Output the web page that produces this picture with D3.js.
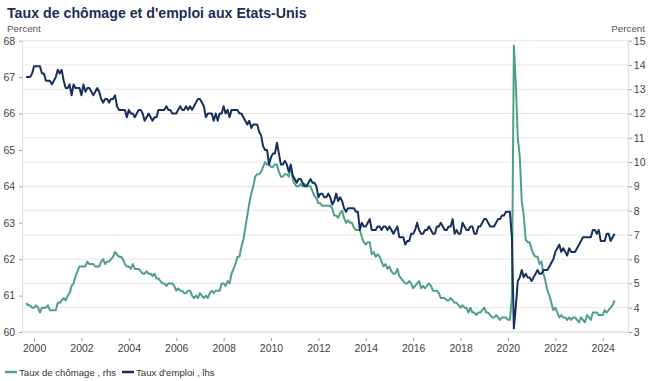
<!DOCTYPE html>
<html><head><meta charset="utf-8">
<script src="https://cdn.jsdelivr.net/npm/d3@7"></script>
<style>body{margin:0;background:#fff}svg{display:block}text{font-family:"Liberation Sans",Arial,sans-serif}</style>
</head><body><svg id="c" width="652" height="381"></svg>
<script>
// Monthly series, starting September 1999, ending July 2024
const startYear = 1999, startMonth = 8; // 0-based month (September)
const unemployment = [ // Taux de chômage (rhs)
4.2,4.1,4.1,4.0,
4.0,4.1,4.0,3.8,4.0,4.0,4.0,4.1,3.9,3.9,3.9,3.9,
4.2,4.2,4.3,4.4,4.3,4.5,4.6,4.9,5.0,5.3,5.5,5.7,
5.7,5.7,5.7,5.9,5.8,5.8,5.8,5.7,5.7,5.7,5.9,6.0,
5.8,5.9,5.9,6.0,6.1,6.3,6.2,6.1,6.1,6.0,5.8,5.7,
5.7,5.6,5.8,5.6,5.6,5.6,5.5,5.4,5.4,5.5,5.4,5.4,
5.3,5.4,5.2,5.2,5.1,5.0,5.0,4.9,5.0,5.0,5.0,4.9,
4.7,4.8,4.7,4.7,4.6,4.6,4.7,4.7,4.5,4.4,4.5,4.4,
4.6,4.5,4.4,4.5,4.4,4.6,4.7,4.6,4.7,4.7,4.7,5.0,
5.0,4.9,5.1,5.0,5.4,5.6,5.8,6.1,6.1,6.5,6.8,7.3,
7.8,8.3,8.7,9.0,9.4,9.5,9.5,9.6,9.8,10.0,9.9,9.9,
9.8,9.8,9.9,9.9,9.6,9.4,9.4,9.5,9.5,9.4,9.8,9.3,
9.1,9.0,9.0,9.1,9.0,9.1,9.0,9.0,9.0,8.8,8.6,8.5,
8.3,8.3,8.2,8.2,8.2,8.2,8.2,8.1,7.8,7.8,7.7,7.9,
8.0,7.7,7.5,7.6,7.5,7.5,7.3,7.2,7.2,7.2,6.9,6.7,
6.6,6.7,6.7,6.2,6.3,6.1,6.2,6.1,5.9,5.7,5.8,5.6,
5.7,5.5,5.4,5.4,5.6,5.3,5.2,5.1,5.0,5.0,5.1,5.0,
4.8,4.9,5.0,5.1,4.8,4.9,4.8,4.9,5.0,4.9,4.7,4.7,
4.7,4.6,4.4,4.4,4.4,4.3,4.3,4.4,4.3,4.2,4.2,4.1,
4.0,4.1,4.0,4.0,3.8,4.0,3.8,3.8,3.7,3.8,3.8,3.9,
4.0,3.8,3.8,3.7,3.6,3.6,3.7,3.6,3.5,3.6,3.6,3.6,
3.5,3.5,4.4,14.8,13.2,11.0,10.2,8.4,7.8,6.8,6.7,6.7,
6.4,6.2,6.1,6.1,5.8,5.9,5.4,5.1,4.7,4.5,4.2,3.9,
4.0,3.8,3.6,3.7,3.6,3.6,3.5,3.6,3.5,3.6,3.6,3.5,
3.4,3.6,3.5,3.4,3.7,3.6,3.5,3.8,3.8,3.8,3.7,3.7,
3.7,3.9,3.8,3.9,4.0,4.1,4.3
];
const participation = [ // Taux d'emploi (lhs)
67.0,67.0,67.0,67.1,
67.3,67.3,67.3,67.3,67.1,67.1,66.9,66.9,66.9,66.8,66.9,67.0,
67.2,67.1,67.2,66.9,66.7,66.7,66.8,66.5,66.8,66.7,66.7,66.7,
66.5,66.8,66.6,66.7,66.7,66.6,66.5,66.6,66.7,66.6,66.4,66.3,
66.4,66.4,66.3,66.4,66.4,66.5,66.2,66.1,66.1,66.1,66.1,65.9,
66.1,66.0,66.0,65.9,66.0,66.1,66.1,66.0,65.8,65.9,66.0,65.9,
65.8,65.9,65.9,66.1,66.1,66.1,66.1,66.2,66.1,66.1,66.0,66.0,
66.0,66.1,66.2,66.1,66.1,66.2,66.1,66.2,66.1,66.2,66.3,66.4,
66.4,66.3,66.2,65.9,66.0,66.0,66.0,65.8,66.0,65.8,66.0,66.0,
66.2,66.0,66.1,65.9,66.1,66.1,66.1,66.1,66.0,66.0,65.9,65.8,
65.7,65.8,65.6,65.7,65.7,65.7,65.5,65.4,65.1,65.0,65.0,64.6,
64.8,64.9,64.9,65.2,64.9,64.6,64.6,64.7,64.6,64.4,64.6,64.3,
64.2,64.1,64.2,64.2,64.1,64.0,64.0,64.1,64.2,64.1,64.1,64.0,
63.7,63.8,63.8,63.7,63.7,63.8,63.7,63.5,63.6,63.8,63.6,63.7,
63.6,63.4,63.3,63.4,63.4,63.4,63.4,63.3,63.3,62.8,63.0,62.9,
62.9,63.0,63.1,62.8,62.8,62.8,62.9,62.9,62.8,62.9,62.9,62.8,
62.9,62.8,62.7,62.8,62.9,62.6,62.6,62.6,62.4,62.5,62.5,62.7,
62.7,62.8,63.0,62.8,62.7,62.7,62.8,62.8,62.9,62.8,62.7,62.7,
62.9,62.9,63.0,62.9,62.8,62.8,62.9,62.9,63.1,62.7,62.8,62.7,
62.7,63.0,62.9,62.8,62.8,62.9,62.9,62.7,62.7,62.9,62.9,63.0,
63.1,63.1,63.0,62.9,62.9,62.9,63.0,63.1,63.1,63.2,63.2,63.3,
63.3,63.3,62.6,60.1,60.7,61.4,61.5,61.7,61.5,61.6,61.5,61.5,
61.4,61.5,61.6,61.7,61.6,61.6,61.7,61.7,61.7,61.8,61.9,62.0,
62.2,62.3,62.4,62.2,62.3,62.2,62.1,62.3,62.2,62.2,62.2,62.3,
62.4,62.5,62.6,62.6,62.6,62.6,62.6,62.8,62.8,62.7,62.8,62.5,
62.5,62.5,62.7,62.7,62.5,62.6,62.7
];
const yearTicks = [2000,2002,2004,2006,2008,2010,2012,2014,2016,2018,2020,2022,2024];
const leftTicks = [60,61,62,63,64,65,66,67,68];
const rightTicks = [3,4,5,6,7,8,9,10,11,12,13,14,15];
const seriesNames = ["Taux de chômage , rhs", "Taux d'emploi , lhs"];
const title = "Taux de chômage et d'emploi aux Etats-Unis";

const colGreen = "#4fa088", colNavy = "#17305c";
const svg = d3.select("#c");
const L = 22.7, R = 628.3, T = 40.7, B = 332;

const dateOf = i => startYear + (startMonth + i) / 12;
const x = d3.scaleLinear().domain([1999.52, 2025.08]).range([L, R]);
const yL = d3.scaleLinear().domain([60, 68]).range([B, T]);
const yR = d3.scaleLinear().domain([3, 15]).range([B, T]);

// title & unit labels
svg.append("text").attr("x", 7).attr("y", 18).attr("font-size", 14.2).attr("font-weight", "bold")
  .attr("fill", "#1c2f57").text(title);
svg.append("text").attr("x", 7).attr("y", 31.5).attr("font-size", 9.8).attr("fill", "#555").text("Percent");
svg.append("text").attr("x", 645).attr("y", 31.5).attr("font-size", 9.8).attr("fill", "#555")
  .attr("text-anchor", "end").text("Percent");

// gridlines (right axis)
svg.append("g").selectAll("line").data(rightTicks).join("line")
  .attr("x1", L).attr("x2", R).attr("y1", d => yR(d)).attr("y2", d => yR(d))
  .attr("stroke", "#e6e6e6").attr("stroke-width", 1);
// axis frame lines
svg.append("line").attr("x1", L).attr("x2", L).attr("y1", T).attr("y2", B).attr("stroke", "#dcdcdc");
svg.append("line").attr("x1", R).attr("x2", R).attr("y1", T).attr("y2", B).attr("stroke", "#dcdcdc");
svg.append("line").attr("x1", L).attr("x2", R).attr("y1", B).attr("y2", B).attr("stroke", "#dcdcdc");

function styleAxis(g) {
  g.select(".domain").remove();
  g.selectAll(".tick line").attr("stroke", "#999");
  g.selectAll(".tick text").attr("fill", "#444").attr("font-size", 10.5)
    .attr("font-family", "'Liberation Sans', Arial, sans-serif");
}
svg.append("g").attr("transform", `translate(${L - 0.5},0)`)
  .call(d3.axisLeft(yL).tickValues(leftTicks).tickSize(3).tickPadding(4).tickFormat(d3.format("d")))
  .call(styleAxis);
svg.append("g").attr("transform", `translate(${R + 0.5},0)`)
  .call(d3.axisRight(yR).tickValues(rightTicks).tickSize(3).tickPadding(2).tickFormat(d3.format("d")))
  .call(styleAxis);
svg.append("g").attr("transform", `translate(0,${B + 6})`)
  .call(d3.axisBottom(x).tickValues(yearTicks).tickSize(3).tickPadding(4).tickFormat(d3.format("d")))
  .call(styleAxis);

// lines
const lineR = d3.line().x((d, i) => x(dateOf(i))).y(d => yR(d));
const lineL = d3.line().x((d, i) => x(dateOf(i))).y(d => yL(d));
svg.append("path").datum(unemployment).attr("d", lineR).attr("fill", "none")
  .attr("stroke", colGreen).attr("stroke-width", 2).attr("stroke-linejoin", "round");
svg.append("path").datum(participation).attr("d", lineL).attr("fill", "none")
  .attr("stroke", colNavy).attr("stroke-width", 2).attr("stroke-linejoin", "round");

// legend
const lg = svg.append("g").attr("transform", "translate(0,372)");
const legItems = [{name: seriesNames[0], color: colGreen, x: 5}, {name: seriesNames[1], color: colNavy, x: 122}];
legItems.forEach(it => {
  lg.append("line").attr("x1", it.x).attr("x2", it.x + 12).attr("y1", 0).attr("y2", 0)
    .attr("stroke", it.color).attr("stroke-width", 2.5);
  lg.append("text").attr("x", it.x + 14).attr("y", 3.5).attr("font-size", 9.6).attr("fill", "#333").text(it.name);
});
</script></body></html>
